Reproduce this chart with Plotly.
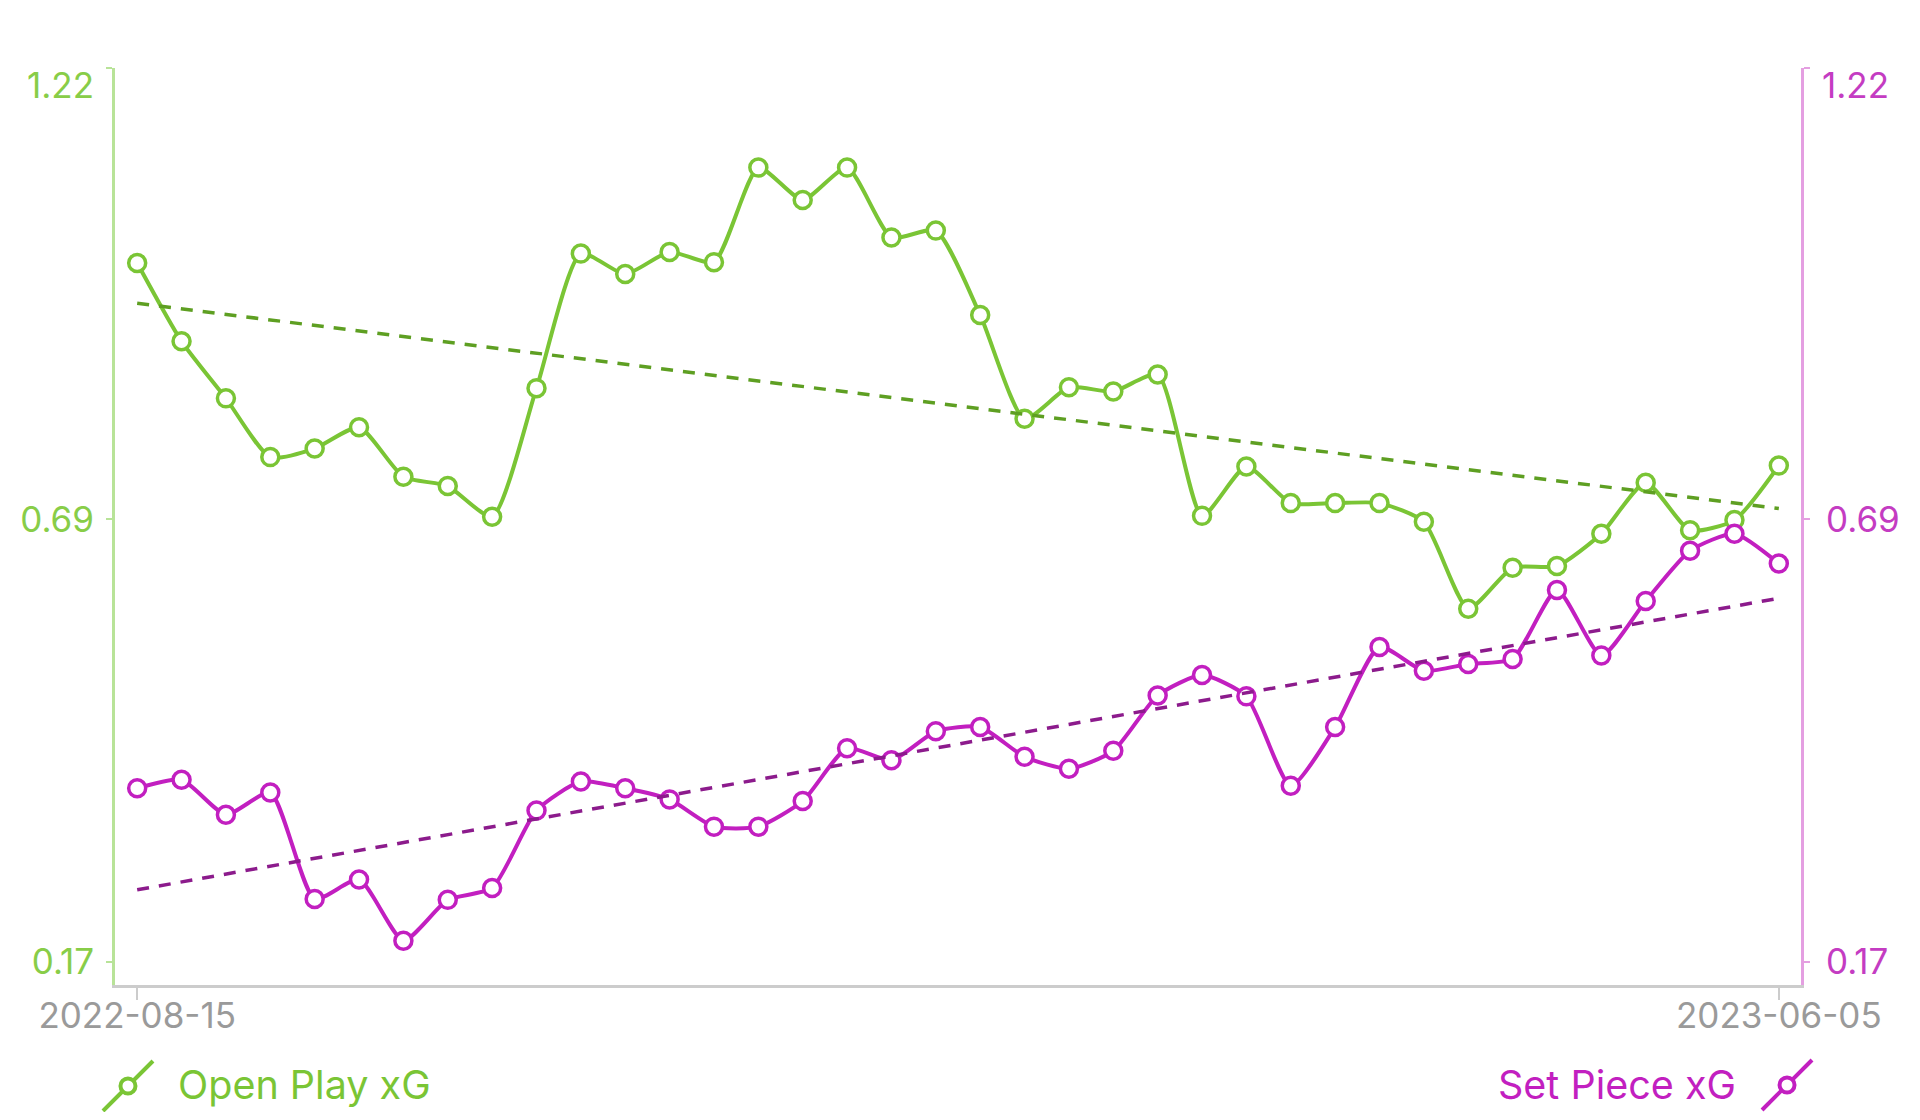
import numpy as np
import plotly.graph_objects as go

# ---- data ----
matches = list(range(1, 39))
date_labels = ["2022-08-15", "2023-06-05"]

open_play_xg = [0.991, 0.899, 0.832, 0.763, 0.773, 0.798, 0.740, 0.729, 0.693, 0.844,
                1.002, 0.978, 1.004, 0.992, 1.103, 1.065, 1.103, 1.021, 1.029, 0.930,
                0.808, 0.845, 0.840, 0.860, 0.694, 0.752, 0.709, 0.709, 0.709, 0.687,
                0.585, 0.633, 0.635, 0.673, 0.733, 0.677, 0.689, 0.753]

set_piece_xg = [0.374, 0.384, 0.343, 0.369, 0.244, 0.267, 0.195, 0.243, 0.257, 0.348,
                0.382, 0.374, 0.361, 0.329, 0.329, 0.359, 0.421, 0.407, 0.441, 0.446,
                0.411, 0.397, 0.418, 0.483, 0.507, 0.482, 0.377, 0.446, 0.540, 0.512,
                0.520, 0.526, 0.607, 0.530, 0.594, 0.653, 0.673, 0.638]

y_ticks = [0.17, 0.69, 1.22]
y_tick_text = ["0.17", "0.69", ""]
y_top_label = "1.22"

# ---- styles ----
GREEN = "#7ac535"
GREEN_TREND = "#5e9f22"
GREEN_TXT = "#88cd48"
GREEN_AXIS = "#b8e398"
MAG = "#c21fc0"
MAG_TREND = "#8c1b8c"
MAG_TXT = "#c43cc2"
MAG_AXIS = "#e49fe1"
FONT = "Inter"
TICK_SIZE = 35

x = np.array(matches, dtype=float)
g = np.array(open_play_xg)
m = np.array(set_piece_xg)
gc = np.polyfit(x, g, 1)
mc = np.polyfit(x, m, 1)
g_trend = np.polyval(gc, x)
m_trend = np.polyval(mc, x)

fig = go.Figure()

marker_common = dict(size=17, color="white", symbol="circle")

fig.add_trace(go.Scatter(
    x=matches, y=open_play_xg, mode="lines+markers", name="Open Play xG",
    line=dict(color=GREEN, width=4, shape="spline", smoothing=0.6),
    marker=dict(**marker_common, line=dict(color=GREEN, width=3.5)),
    yaxis="y", hoverinfo="skip"))
fig.add_trace(go.Scatter(
    x=matches, y=set_piece_xg, mode="lines+markers", name="Set Piece xG",
    line=dict(color=MAG, width=4, shape="spline", smoothing=0.6),
    marker=dict(**marker_common, line=dict(color=MAG, width=3.5)),
    yaxis="y2", hoverinfo="skip"))
fig.add_trace(go.Scatter(
    x=matches, y=g_trend, mode="lines", line=dict(color=GREEN_TREND, width=3.5, dash="12px,10px"),
    yaxis="y", hoverinfo="skip"))
fig.add_trace(go.Scatter(
    x=matches, y=m_trend, mode="lines", line=dict(color=MAG_TREND, width=3.5, dash="12px,10px"),
    yaxis="y2", hoverinfo="skip"))

# page body has an 8px margin; figure sized so the plot lands at page px 114..1804, 68..985
OFF = 8
FIG_W, FIG_H = 1920 - 2 * OFF, 1120 - 2 * OFF
L, T = 114 - OFF, 68 - OFF
R = FIG_W - (1804 - OFF)
B = FIG_H - (985 - OFF)

yr = [0.143, 1.22]
fig.update_layout(
    width=FIG_W, height=FIG_H,
    margin=dict(l=L, r=R, t=T, b=B, pad=0),
    paper_bgcolor="white", plot_bgcolor="white",
    showlegend=False,
    font=dict(family=FONT),
    xaxis=dict(
        range=[matches[0] - 0.5, matches[-1] + 0.5],
        tickvals=[matches[0], matches[-1]], ticktext=date_labels,
        showgrid=False, zeroline=False,
        showline=True, linecolor="#cccccc", linewidth=3,
        ticks="outside", ticklen=12, tickwidth=2, tickcolor="#cccccc",
        tickfont=dict(size=TICK_SIZE, color="#9a9a9a", family=FONT),
        ticklabelstandoff=-14,
    ),
    yaxis=dict(
        range=yr, tickvals=y_ticks, ticktext=y_tick_text,
        showgrid=False, zeroline=False,
        showline=True, linecolor=GREEN_AXIS, linewidth=3,
        ticks="outside", ticklen=6, tickwidth=2, tickcolor=GREEN_AXIS,
        tickfont=dict(size=TICK_SIZE, color=GREEN_TXT, family=FONT),
        ticklabelstandoff=5,
    ),
    yaxis2=dict(
        range=yr, tickvals=y_ticks, ticktext=y_tick_text,
        overlaying="y", side="right",
        showgrid=False, zeroline=False,
        showline=True, linecolor=MAG_AXIS, linewidth=3,
        ticks="outside", ticklen=6, tickwidth=2, tickcolor=MAG_AXIS,
        tickfont=dict(size=TICK_SIZE, color=MAG_TXT, family=FONT),
        ticklabelstandoff=9,
    ),
)

# top tick labels (drawn just below the top tick)
fig.add_annotation(x=0, xref="paper", xanchor="right", xshift=-19,
                   y=1, yref="paper", yanchor="middle", yshift=-17,
                   text=y_top_label, showarrow=False,
                   font=dict(size=TICK_SIZE, color=GREEN_TXT, family=FONT))
fig.add_annotation(x=1, xref="paper", xanchor="left", xshift=19,
                   y=1, yref="paper", yanchor="middle", yshift=-17,
                   text=y_top_label, showarrow=False,
                   font=dict(size=TICK_SIZE, color=MAG_TXT, family=FONT))

# custom legend (positions in page pixels, converted to paper coords)
PW, PH = 1690.0, 917.0
def px(xp):
    return (xp - 114) / PW
def py(yp):
    return (985 - yp) / PH

def legend_icon(cx, cy, color):
    fig.add_shape(type="line", xref="paper", yref="paper",
                  xsizemode="pixel", ysizemode="pixel",
                  xanchor=px(cx), yanchor=py(cy),
                  x0=-25, y0=-25, x1=25, y1=25,
                  line=dict(color=color, width=4))
    fig.add_shape(type="circle", xref="paper", yref="paper",
                  xsizemode="pixel", ysizemode="pixel",
                  xanchor=px(cx), yanchor=py(cy),
                  x0=-7.5, y0=-7.5, x1=7.5, y1=7.5,
                  fillcolor="white", line=dict(color=color, width=4))

legend_icon(127, 1086, GREEN)
legend_icon(1790, 1085, MAG)
fig.add_annotation(x=px(175), xref="paper", xanchor="left",
                   y=py(1085), yref="paper", yanchor="middle",
                   text="Open Play xG", showarrow=False,
                   font=dict(size=39.5, color=GREEN, family=FONT))
fig.add_annotation(x=px(1741), xref="paper", xanchor="right",
                   y=py(1085), yref="paper", yanchor="middle",
                   text="Set Piece xG", showarrow=False,
                   font=dict(size=39.5, color=MAG, family=FONT))

fig.write_html("out.html")
